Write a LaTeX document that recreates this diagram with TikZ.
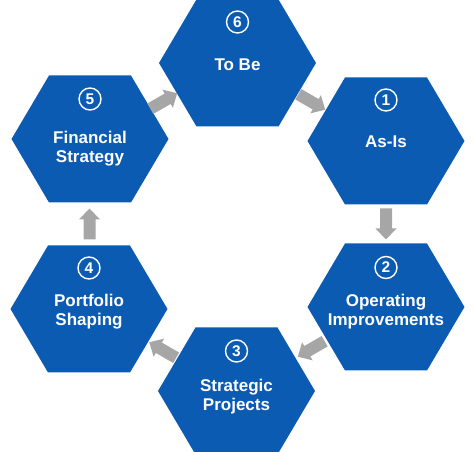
\documentclass[tikz,border=0pt]{standalone}
\usepackage{fontspec}
\setmainfont{Liberation Sans}
\usetikzlibrary{calc}
\definecolor{hexblue}{RGB}{12,91,178}
\definecolor{arrowgray}{RGB}{166,166,166}
\tikzset{
  hexa/.pic={\fill[hexblue] (-78.5,0) -- (-41,63.5) -- (41,63.5) -- (78.5,0) -- (41,-63.5) -- (-41,-63.5) -- cycle;},
  blockarrow/.pic={\fill[arrowgray] (-15.5,-6) -- (4.5,-6) -- (4.5,-10.5) -- (15.5,0) -- (4.5,10.5) -- (4.5,6) -- (-15.5,6) -- cycle;},
  numcirc/.style={circle, draw=white, line width=1.4pt, minimum size=22pt, inner sep=0pt,
    text=white, font=\bfseries\fontsize{15.5}{17}\selectfont},
  lbl/.style={text=white, align=center, inner sep=0pt, font=\bfseries\fontsize{17}{19}\selectfont}
}
\begin{document}
\begin{tikzpicture}[x=1pt,y=1pt]
\useasboundingbox (0,0) rectangle (475,452);
\coordinate (h6) at (237.5,389);
\coordinate (h1) at (386,311);
\coordinate (h2) at (386,145);
\coordinate (h3) at (236.5,61);
\coordinate (h4) at (89,143);
\coordinate (h5) at (90,313);
\foreach \h in {h1,h2,h3,h4,h5,h6} {\pic at (\h) {hexa};}
% numbers
\node[numcirc] (n6) at ($(h6)+(0,41)$) {6};
\node[numcirc] (n1) at ($(h1)+(0,41)$) {1};
\node[numcirc] (n2) at ($(h2)+(0,39.5)$) {2};
\node[numcirc] (n3) at ($(h3)+(0,40)$) {3};
\node[numcirc] (n4) at ($(h4)+(0,41)$) {4};
\node[numcirc] (n5) at ($(h5)+(0,40)$) {5};
% labels
\node[lbl] (t6) at ($(h6)+(0,-1.3)$) {To Be};
\node[lbl] (t1) at ($(h1)+(0,-0.7)$) {As-Is};
\node[lbl] (t2) at ($(h2)+(0,-4.2)$) {Operating\\Improvements};
\node[lbl] (t3) at ($(h3)+(0,-6)$) {Strategic\\Projects};
\node[lbl] (t4) at ($(h4)+(0,-2.7)$) {Portfolio\\Shaping};
\node[lbl] (t5) at ($(h5)+(0,-10)$) {Financial\\Strategy};
% arrows
\path ($(h6)!0.5!(h1)$) pic[rotate=-30] {blockarrow};
\path ($(h1)!0.5!(h2)$) pic[rotate=-90] {blockarrow};
\path ($(h2)!0.5!(h3)$) pic[rotate=210] {blockarrow};
\path ($(h3)!0.5!(h4)$) pic[rotate=150] {blockarrow};
\path ($(h4)!0.5!(h5)$) pic[rotate=90] {blockarrow};
\path ($(h5)!0.5!(h6)$) pic[rotate=30] {blockarrow};
\end{tikzpicture}
\end{document}
